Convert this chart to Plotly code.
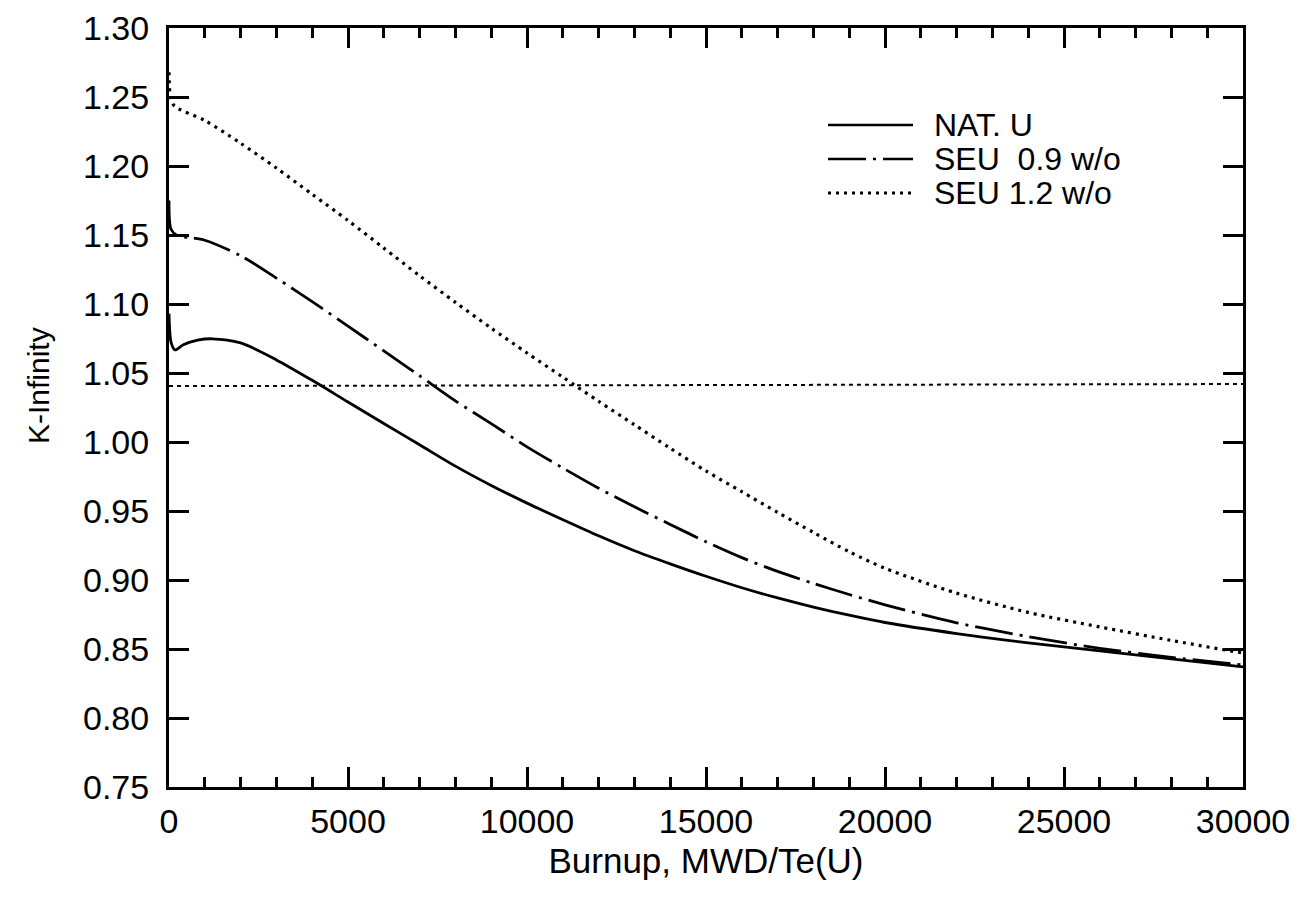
import plotly.graph_objects as go

# NAT. U (solid)
nat_x = [0, 60, 168, 400, 800, 1200, 2000, 3000, 4000, 5000, 6000, 7000, 8000, 9000,
         10000, 11000, 12000, 13000, 14000, 15000, 16000, 17000, 18000, 19000, 20000,
         22000, 24000, 26000, 28000, 30000]
nat_y = [1.093, 1.072, 1.0667, 1.0705, 1.0738, 1.0748, 1.0718, 1.0595, 1.0447, 1.029,
         1.0134, 0.998, 0.9825, 0.9685, 0.9557, 0.9437, 0.932, 0.9212, 0.9117, 0.9027,
         0.8944, 0.887, 0.8804, 0.8745, 0.8692, 0.8612, 0.8545, 0.8486, 0.8428, 0.837]

# SEU 0.9 w/o (dash-dot)
seu9_x = [0, 60, 250, 600, 1000, 2000, 3000, 4000, 5000, 6000, 7000, 8000, 9000, 10000,
          11000, 12000, 13000, 14000, 15000, 16000, 17000, 18000, 19000, 20000, 22000,
          24000, 26000, 28000, 30000]
seu9_y = [1.175, 1.154, 1.1493, 1.148, 1.1462, 1.135, 1.1188, 1.1017, 1.084, 1.066,
          1.048, 1.0298, 1.0133, 0.9965, 0.9812, 0.9665, 0.953, 0.9403, 0.9277, 0.9162,
          0.9062, 0.8975, 0.8895, 0.882, 0.869, 0.859, 0.8505, 0.844, 0.8384]

# SEU 1.2 w/o (dotted)
seu12_x = [0, 40, 150, 1000, 2000, 3000, 4000, 5000, 6000, 7000, 8000, 9000, 10000,
           11000, 12000, 13000, 14000, 15000, 16000, 17000, 18000, 19000, 20000, 22000,
           24000, 26000, 28000, 30000]
seu12_y = [1.268, 1.25, 1.2435, 1.233, 1.2165, 1.1985, 1.1795, 1.1605, 1.1405, 1.1205,
           1.1012, 1.0825, 1.0645, 1.047, 1.0295, 1.0125, 0.9955, 0.979, 0.964, 0.949,
           0.9345, 0.9205, 0.9085, 0.8905, 0.8765, 0.866, 0.8562, 0.847]

# reference level line
ref_x = [0, 30000]
ref_y = [1.0405, 1.042]

series_names = ["NAT. U", "SEU  0.9 w/o", "SEU 1.2 w/o"]
series_dash = ["solid", "38px,7px,3px,7px", "3px,5px"]

FONT = "Liberation Sans, Arial, sans-serif"
W, H = 1306, 909
L, R, T, B = 161, 71, 20, 130
PW, PH = W - L - R, H - T - B


def px_to_paper(px, py):
    return (px - L) / PW, (H - B - py) / PH


fig = go.Figure()
fig.add_trace(go.Scatter(x=nat_x, y=nat_y, mode="lines", name=series_names[0], showlegend=False,
                         line=dict(color="black", width=2.8, shape="spline", smoothing=0.8)))
fig.add_trace(go.Scatter(x=seu9_x, y=seu9_y, mode="lines", name=series_names[1], showlegend=False,
                         line=dict(color="black", width=2.8, dash=series_dash[1],
                                   shape="spline", smoothing=0.8)))
fig.add_trace(go.Scatter(x=seu12_x, y=seu12_y, mode="lines", name=series_names[2], showlegend=False,
                         line=dict(color="black", width=3.2, dash=series_dash[2],
                                   shape="spline", smoothing=0.8)))
fig.add_trace(go.Scatter(x=ref_x, y=ref_y, mode="lines", showlegend=False,
                         line=dict(color="black", width=2, dash="4px,4px")))

# legend (compact, drawn as shapes + text)
rows_py = [117, 151, 185]
widths = [2.5, 2.5, 3]
for name, dash, py, w in zip(series_names, series_dash, rows_py, widths):
    x0, y0 = px_to_paper(820, py)
    x1, _ = px_to_paper(905, py)
    fig.add_shape(type="line", xref="paper", yref="paper", x0=x0, x1=x1, y0=y0, y1=y0,
                  line=dict(color="black", width=w, dash=dash))
    tx, ty = px_to_paper(925, py)
    fig.add_annotation(xref="paper", yref="paper", x=tx, y=ty, text=name, showarrow=False,
                       xanchor="left", yanchor="middle", borderpad=0,
                       font=dict(size=32, family=FONT, color="black"))

# y axis title
ax, ay = px_to_paper(30, 378)
fig.add_annotation(xref="paper", yref="paper", x=ax, y=ay, text="K-Infinity", showarrow=False,
                   textangle=-90, xanchor="center", yanchor="middle",
                   font=dict(size=30, family=FONT, color="black"))

fig.update_layout(
    width=W, height=H,
    paper_bgcolor="white", plot_bgcolor="white",
    margin=dict(l=L, r=R, t=T, b=B),
    font=dict(family=FONT, size=34, color="black"),
    showlegend=False,
)
fig.update_xaxes(
    range=[0, 30000], dtick=5000, tick0=0, tickformat="d",
    showline=True, linecolor="black", linewidth=3, mirror="ticks",
    ticks="inside", ticklen=20, tickwidth=3, tickcolor="black",
    minor=dict(ticks="inside", ticklen=10, tickwidth=2.5, dtick=1000, tickcolor="black"),
    showgrid=False, zeroline=False, automargin=False,
    tickfont=dict(size=34, family=FONT), ticklabelstandoff=2,
    title=dict(text="Burnup, MWD/Te(U)", font=dict(size=35, family=FONT), standoff=10),
)
fig.update_yaxes(
    range=[0.75, 1.30], dtick=0.05, tick0=0.75, tickformat=".2f",
    showline=True, linecolor="black", linewidth=3, mirror="ticks",
    ticks="inside", ticklen=20, tickwidth=3, tickcolor="black",
    showgrid=False, zeroline=False, automargin=False,
    tickfont=dict(size=34, family=FONT), ticklabelstandoff=10,
)

fig.write_html("out.html")
